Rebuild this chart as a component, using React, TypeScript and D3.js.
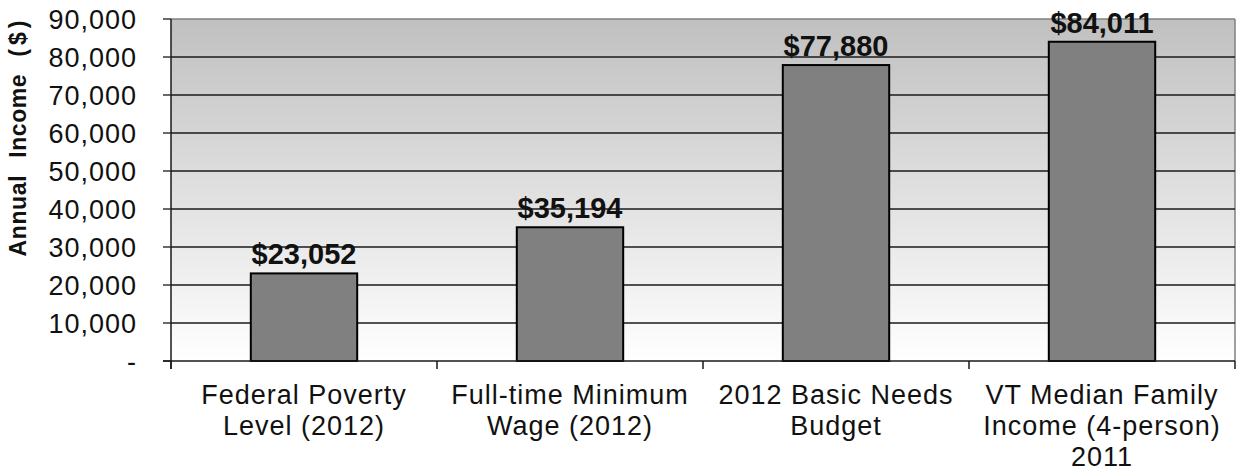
import React from "react";
import * as d3 from "d3";

const categories = [
  ["Federal Poverty", "Level (2012)"],
  ["Full-time Minimum", "Wage (2012)"],
  ["2012 Basic Needs", "Budget"],
  ["VT Median Family", "Income (4-person)", "2011"],
];
const categoryKeys = ["fpl", "minwage", "basic", "median"];
const values = [23052, 35194, 77880, 84011];
const valueLabels = ["$23,052", "$35,194", "$77,880", "$84,011"];
const yTicks = [0, 10000, 20000, 30000, 40000, 50000, 60000, 70000, 80000, 90000];
const yTitleMain = "Annual Income";
const yTitleUnit = "($)";

const W = 1236;
const H = 471;
const left = 171;
const right = 1235;
const top = 19;
const bottom = 361;

export default function App() {
  const x = d3.scaleBand<string>().domain(categoryKeys).range([left, right]).paddingInner(0.6).paddingOuter(0.3);
  const y = d3.scaleLinear().domain([0, 90000]).range([bottom, top]);
  const fmt = d3.format(",");
  const step = x.step();
  const boundaries = d3.range(categoryKeys.length + 1).map((i) => left + i * step);
  const font = "Arial, 'Liberation Sans', sans-serif";

  return (
    <svg width={W} height={H} style={{ position: "absolute", left: 0, top: 0, background: "#fff" }} fontFamily={font}>
      <defs>
        <linearGradient id="bg" x1="0" y1="0" x2="0" y2="1">
          <stop offset="0" stopColor="#c0c0c0" />
          <stop offset="1" stopColor="#ffffff" />
        </linearGradient>
      </defs>
      <rect x={left} y={top} width={right - left} height={bottom - top} fill="url(#bg)" />
      <line x1={left} x2={right} y1={top} y2={top} stroke="#808080" strokeWidth={1.5} />
      <line x1={right} x2={right} y1={top} y2={bottom} stroke="#808080" strokeWidth={1.5} />
      {yTicks.slice(1, -1).map((t) => (
        <line key={t} x1={left} x2={right} y1={y(t)} y2={y(t)} stroke="#1a1a1a" strokeWidth={1.3} />
      ))}
      {yTicks.map((t) => (
        <g key={"t" + t}>
          <line x1={left - 8} x2={left} y1={y(t)} y2={y(t)} stroke="#1a1a1a" strokeWidth={1.3} />
          <text x={137} y={y(t) + 9.5} textAnchor="end" fontSize={27} letterSpacing={1} fill="#111">
            {t === 0 ? "-" : fmt(t)}
          </text>
        </g>
      ))}
      {categoryKeys.map((k, i) => {
        const bx = x(k) as number;
        const by = y(values[i]);
        return (
          <g key={k}>
            <rect x={bx} y={by} width={x.bandwidth()} height={bottom - by} fill="#808080" stroke="#000" strokeWidth={2} />
            <text x={bx + x.bandwidth() / 2} y={by - 9} textAnchor="middle" fontSize={29} fontWeight="bold" fill="#111">
              {valueLabels[i]}
            </text>
            {categories[i].map((line, j) => (
              <text key={j} x={bx + x.bandwidth() / 2} y={404 + j * 31} textAnchor="middle" fontSize={27} letterSpacing={1} fill="#111">
                {line}
              </text>
            ))}
          </g>
        );
      })}
      <line x1={left} x2={left} y1={top} y2={bottom + 8} stroke="#1a1a1a" strokeWidth={1.5} />
      <line x1={left - 8} x2={right} y1={bottom} y2={bottom} stroke="#1a1a1a" strokeWidth={1.5} />
      {boundaries.map((b, i) => (
        <line key={"b" + i} x1={b} x2={b} y1={bottom} y2={bottom + 8} stroke="#1a1a1a" strokeWidth={1.5} />
      ))}
      <text
        transform={`translate(26,136.5) rotate(-90)`}
        textAnchor="middle"
        fontSize={23}
        fontWeight="bold"
        letterSpacing={0.6}
        wordSpacing={10}
        fill="#111"
      >
        {yTitleMain + " "}
        <tspan letterSpacing={4}>{yTitleUnit}</tspan>
      </text>
    </svg>
  );
}
